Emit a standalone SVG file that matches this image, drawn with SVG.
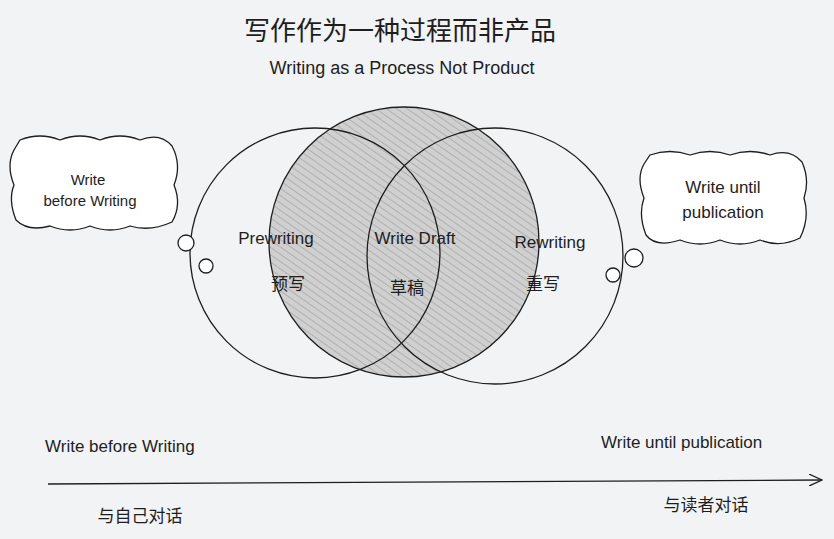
<svg xmlns="http://www.w3.org/2000/svg" width="834" height="539" viewBox="0 0 834 539">
<style>
.t{font-family:"Liberation Sans","Noto Sans CJK SC",sans-serif;fill:#1e1e1e}
.s{fill:none;stroke:#1e1e1e;stroke-width:1.3}
.c{fill:#fff;stroke:#1e1e1e;stroke-width:1.3}
</style>
<defs>
<pattern id="h" width="6" height="6" patternUnits="userSpaceOnUse" patternTransform="rotate(-55)">
<rect width="6" height="6" fill="#d0d0d0"/><line x1="0" y1="0" x2="0" y2="6" stroke="#9a9a9a" stroke-width="1.2"/>
</pattern>
<marker id="a" markerWidth="14" markerHeight="12" refX="13" refY="6" orient="auto" markerUnits="userSpaceOnUse"><path d="M0,0 L13,6 L0,12" class="s"/></marker>
</defs>
<rect width="834" height="539" fill="#f1f3f5"/>
<text class="t" x="400" y="40" font-size="26" text-anchor="middle">写作作为一种过程而非产品</text>
<text class="t" x="402" y="74" font-size="18" text-anchor="middle">Writing as a Process Not Product</text>
<g id="draft"><circle cx="404" cy="242" r="135" fill="url(#h)" class="s" style="fill:url(#h)"/></g>
<g id="prewriting"><circle cx="315" cy="253" r="125" class="s"/>
<text class="t" x="276" y="244" font-size="17" text-anchor="middle">Prewriting</text>
<text class="t" x="288" y="290" font-size="17" text-anchor="middle">预写</text></g>
<g id="rewriting"><circle cx="495" cy="256" r="128" class="s"/>
<text class="t" x="550" y="248" font-size="17" text-anchor="middle">Rewriting</text>
<text class="t" x="543" y="290" font-size="17" text-anchor="middle">重写</text></g>
<text class="t" x="415" y="244" font-size="17" text-anchor="middle">Write Draft</text>
<text class="t" x="407" y="294" font-size="17" text-anchor="middle">草稿</text>
<g id="cloud-left">
<path class="c" d="M20,140 Q40,132 60,140 Q80,132 100,140 Q120,132 140,140 Q160,132 172,146 Q182,165 174,185 Q182,205 172,222 Q150,232 130,226 Q110,234 90,226 Q70,234 50,226 Q28,232 16,220 Q8,200 14,185 Q6,165 14,150 Z"/>
<circle class="c" cx="186" cy="243" r="8"/><circle class="c" cx="206" cy="266" r="7"/>
<text class="t" x="88" y="185" font-size="15" text-anchor="middle">Write</text>
<text class="t" x="90" y="206" font-size="15" text-anchor="middle">before Writing</text></g>
<g id="cloud-right">
<path class="c" d="M650,155 Q670,148 690,155 Q710,148 730,155 Q750,148 770,155 Q790,148 802,162 Q810,180 804,198 Q810,218 800,238 Q780,248 760,240 Q740,248 720,240 Q700,248 680,240 Q656,248 646,235 Q638,215 644,198 Q636,178 644,164 Z"/>
<circle class="c" cx="634" cy="258" r="9"/><circle class="c" cx="613" cy="275" r="7"/>
<text class="t" x="723" y="193" font-size="17" text-anchor="middle">Write until</text>
<text class="t" x="723" y="218" font-size="17" text-anchor="middle">publication</text></g>
<g id="connectors"><path class="s" d="M48,484 L822,480" marker-end="url(#a)"/></g>
<text class="t" x="45" y="452" font-size="17">Write before Writing</text>
<text class="t" x="601" y="448" font-size="17">Write until publication</text>
<text class="t" x="140" y="522" font-size="17" text-anchor="middle">与自己对话</text>
<text class="t" x="706" y="511" font-size="17" text-anchor="middle">与读者对话</text>
</svg>
